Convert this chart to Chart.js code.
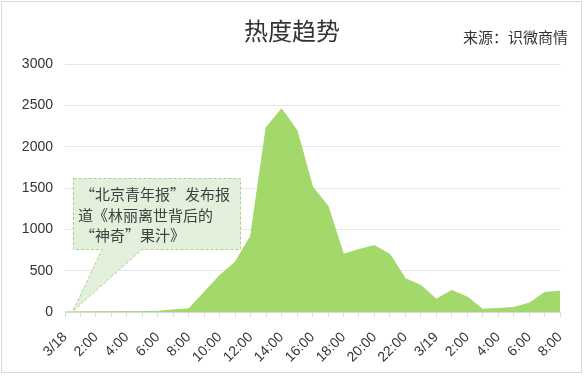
<!DOCTYPE html>
<html>
<head>
<meta charset="utf-8">
<script src="https://cdn.jsdelivr.net/npm/chart.js@4"></script>
<style>
  html, body { margin: 0; padding: 0; background: #fff; }
  #wrap { width: 584px; height: 376px; }
</style>
</head>
<body>
<div id="wrap"><canvas id="c" width="584" height="376"></canvas></div>
<script>
// 横轴：3/18 0:00 到 3/19 8:00，每小时一个点
const hours = [
  '3/18', '1:00', '2:00', '3:00', '4:00', '5:00', '6:00', '7:00', '8:00', '9:00', '10:00', '11:00',
  '12:00', '13:00', '14:00', '15:00', '16:00', '17:00', '18:00', '19:00', '20:00', '21:00', '22:00', '23:00',
  '3/19', '1:00', '2:00', '3:00', '4:00', '5:00', '6:00', '7:00', '8:00'
];
// 热度值
const heat = [
  0, 2, 3, 4, 5, 5, 8, 25, 38, 240, 443, 604,
  920, 2231, 2458, 2194, 1515, 1280, 698, 755, 803, 698, 403, 322,
  155, 261, 180, 34, 42, 55, 107, 237, 252
];
const yTicks = [0, 500, 1000, 1500, 2000, 2500, 3000];
const titleText = '热度趋势';
const sourceText = '来源：识微商情';
const noteLines = ['“北京青年报”发布报', '道《林丽离世背后的', '“神奇”果汁》'];

const cjk = '"Noto Sans CJK SC", "Noto Sans", sans-serif';

// 标题、来源、边框和注释框
const decor = {
  id: 'decor',
  beforeDraw(chart) {
    const ctx = chart.ctx;
    ctx.save();
    ctx.fillStyle = '#fff';
    ctx.fillRect(0, 0, chart.width, chart.height);
    ctx.strokeStyle = '#d9d9d9';
    ctx.lineWidth = 1;
    ctx.strokeRect(1.5, 1.5, 580, 371);
    ctx.restore();
  },
  afterDraw(chart) {
    const ctx = chart.ctx;
    const xs = chart.scales.x, ys = chart.scales.y;
    ctx.save();
    ctx.fillStyle = '#333';
    ctx.font = '24px ' + cjk;
    ctx.textAlign = 'center';
    ctx.textBaseline = 'middle';
    ctx.fillText(titleText, 292, 31);
    ctx.font = '15px ' + cjk;
    ctx.textAlign = 'right';
    ctx.fillText(sourceText, 568, 37);

    // 注释框（带指针，指向第一个数据点）
    const tipX = xs.getPixelForValue(0) + 8;
    const tipY = ys.getPixelForValue(heat[0]) - 1;
    const bx0 = 73, by0 = 178, bx1 = 240, by1 = 249;
    ctx.beginPath();
    ctx.moveTo(bx0 + 0.5, by0 + 0.5);
    ctx.lineTo(bx1 + 0.5, by0 + 0.5);
    ctx.lineTo(bx1 + 0.5, by1 + 0.5);
    ctx.lineTo(142, by1 + 0.5);
    ctx.lineTo(tipX, tipY);
    ctx.lineTo(102, by1 + 0.5);
    ctx.lineTo(bx0 + 0.5, by1 + 0.5);
    ctx.closePath();
    ctx.fillStyle = 'rgba(226, 239, 218, 0.95)';
    ctx.fill();
    ctx.setLineDash([3, 2]);
    ctx.strokeStyle = '#a9d18e';
    ctx.lineWidth = 1;
    ctx.stroke();
    ctx.setLineDash([]);

    ctx.fillStyle = '#404040';
    ctx.font = '15px ' + cjk;
    ctx.textAlign = 'left';
    ctx.textBaseline = 'middle';
    ctx.fillText(noteLines[0], 80, 194);
    ctx.fillText(noteLines[1], 78, 215);
    ctx.fillText(noteLines[2], 80, 235);
    ctx.restore();
  }
};

new Chart(document.getElementById('c'), {
  type: 'line',
  data: {
    labels: hours,
    datasets: [{
      data: heat,
      fill: 'origin',
      backgroundColor: '#a3d86a',
      borderColor: '#a3d86a',
      borderWidth: 1,
      pointRadius: 0,
      tension: 0
    }]
  },
  options: {
    responsive: false,
    animation: false,
    devicePixelRatio: 1,
    layout: { padding: { top: 64, right: 22, left: 0, bottom: 0 } },
    plugins: {
      legend: { display: false },
      tooltip: { enabled: false }
    },
    scales: {
      x: {
        offset: false,
        grid: { drawOnChartArea: false, drawTicks: true, tickLength: 5, color: '#d9d9d9' },
        border: { color: '#d9d9d9' },
        ticks: {
          autoSkip: false,
          maxRotation: 45,
          minRotation: 45,
          padding: 12,
          color: '#333',
          font: { family: '"Liberation Sans", sans-serif', size: 14 },
          callback: (v, i) => (i % 2 === 0 ? hours[i] : '')
        },
        afterCalculateLabelRotation: s => { s.labelRotation = 45; },
        afterFit: s => { s.height = 64; }
      },
      y: {
        min: 0,
        max: 3000,
        afterBuildTicks: s => { s.ticks = yTicks.map(v => ({ value: v })); },
        grid: { color: '#e6e6e6', drawTicks: false },
        border: { display: false },
        ticks: {
          padding: 12,
          color: '#333',
          font: { family: '"Liberation Sans", sans-serif', size: 14 },
          callback: v => String(v)
        },
        afterFit: s => { s.width = 65; }
      }
    }
  },
  plugins: [decor]
});
</script>
</body>
</html>
